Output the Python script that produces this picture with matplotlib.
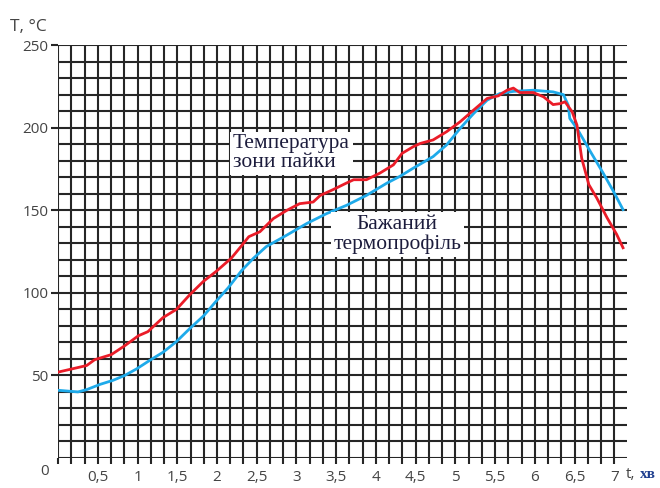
import numpy as np
import matplotlib
matplotlib.use("Agg")
import matplotlib.pyplot as plt
from matplotlib.ticker import MultipleLocator

# temperature of the soldering zone (red)
t_zone = [0.00, 0.18, 0.36, 0.46, 0.67, 0.84, 1.01, 1.13, 1.32, 1.49, 1.66, 1.83,
          1.99, 2.18, 2.30, 2.40, 2.54, 2.71, 2.88, 3.04, 3.21, 3.30, 3.46, 3.63,
          3.72, 3.88, 4.05, 4.22, 4.33, 4.47, 4.56, 4.72, 4.89, 5.06, 5.23, 5.40,
          5.54, 5.65, 5.73, 5.81, 5.98, 6.11, 6.23, 6.32, 6.38, 6.47, 6.53, 6.59,
          6.68, 6.78, 6.91, 7.03, 7.11]
T_zone = [52, 54, 56, 59.5, 62.6, 68, 74, 76.5, 85, 90, 99, 107,
          113, 121, 128, 134, 137, 145, 150, 154, 155, 159, 162.5, 166.5,
          168.5, 168.5, 172.5, 177.5, 184.5, 188.5, 190.5, 192.6, 197.6, 203.6, 210.7, 217.7,
          219.3, 222.7, 224, 221.3, 221.3, 218.7, 214, 214.6, 215.7, 209.6, 201.6, 181.5,
          165.5, 157.4, 145.4, 135.4, 127.3]

# desired thermal profile (blue)
t_prof = [0.00, 0.25, 0.36, 0.53, 0.69, 0.84, 0.99, 1.15, 1.32, 1.49, 1.66, 1.83,
          1.99, 2.14, 2.31, 2.46, 2.62, 2.88, 3.13, 3.38, 3.63, 3.88, 4.14, 4.30,
          4.47, 4.72, 4.89, 5.06, 5.23, 5.40, 5.56, 5.73, 5.98, 6.23, 6.36, 6.42,
          6.44, 6.53, 6.70, 6.86, 6.99, 7.11]
T_prof = [41, 40, 41.4, 44.6, 47, 50, 54, 59, 64, 70.5, 78.5, 86,
          95, 103, 113.5, 121, 128, 135, 142, 148, 153, 159, 166.5, 170.5,
          175.5, 182.5, 189.6, 199.6, 208.6, 216.7, 220.7, 222, 222.7, 221.7, 220, 213.7,
          205.6, 199.6, 185.5, 172.5, 161.4, 150.4]

x_ticks = [0.5, 1, 1.5, 2, 2.5, 3, 3.5, 4, 4.5, 5, 5.5, 6, 6.5, 7]
x_labels = ["0,5", "1", "1,5", "2", "2,5", "3", "3,5", "4", "4,5", "5", "5,5", "6", "6,5", "7"]
y_ticks = [50, 100, 150, 200, 250]

fig = plt.figure(figsize=(6.6, 4.88), dpi=100)
ax = fig.add_axes([0.088, 0.0615, 0.862, 0.846])

ax.set_xlim(0, 7.16)
ax.set_ylim(0, 250)
for s in ax.spines.values():
    s.set_visible(False)

ax.set_xticks(x_ticks)
ax.set_xticklabels(x_labels)
ax.xaxis.set_minor_locator(MultipleLocator(1 / 6))
ax.set_yticks(y_ticks)
ax.yaxis.set_minor_locator(MultipleLocator(10))

gridc = "#262626"
ax.grid(True, which="both", color=gridc, linewidth=1.5)
ax.set_axisbelow(True)
ax.tick_params(axis="x", which="both", direction="out", length=4, width=1.5, color=gridc,
               labelsize=11, labelcolor="#444444", pad=5)
ax.tick_params(axis="y", which="major", direction="out", length=5, width=1.5, color=gridc,
               labelsize=11, labelcolor="#444444", pad=2)
ax.tick_params(axis="y", which="minor", length=0)
for lab in ax.get_xticklabels() + ax.get_yticklabels():
    lab.set_fontfamily("Open Sans")

ax.plot(t_prof, T_prof, color="#1eaaea", linewidth=2, zorder=3)
ax.plot(t_zone, T_zone, color="#ea1c28", linewidth=2, zorder=4)

box = dict(facecolor="white", edgecolor="none", pad=2)
ax.text(2.20, 196, "Температура\nзони пайки", fontsize=15.5, family="Liberation Serif",
        color="#1c1c3c", ha="left", va="top", linespacing=1.0, bbox=box, zorder=5)
ax.text(4.27, 147, "Бажаний\nтермопрофіль", fontsize=15.5, family="Liberation Serif",
        color="#1c1c3c", ha="center", va="top", multialignment="center",
        linespacing=1.0, bbox=box, zorder=5)

ax.annotate("0", xy=(0, 0), xytext=(-10, -10), textcoords="offset points",
            ha="center", va="center", fontsize=11, color="#444444", family="Open Sans")
fig.text(0.015, 0.945, "T, °C", fontsize=12.5, color="#444444", family="Open Sans",
         ha="left", va="center")
fig.text(0.948, 0.027, "t,", fontsize=11, color="#444444", family="Open Sans",
         ha="left", va="center")
fig.text(0.970, 0.027, "хв", fontsize=11, color="#1f3f8f", family="Liberation Serif",
         fontweight="bold", ha="left", va="center")

fig.savefig("out.png", dpi=100)
